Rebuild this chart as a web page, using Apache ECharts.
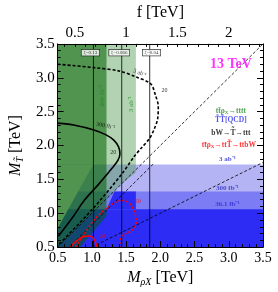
<!DOCTYPE html>
<html><head><meta charset="utf-8">
<script src="https://cdn.jsdelivr.net/npm/echarts@6/dist/echarts.min.js"></script>
<style>html,body{margin:0;padding:0;background:#fff}#c{width:278px;height:292px}</style>
</head><body><div id="c"></div>
<script>
// ---- data ----
const fTicks = [0.5, 1, 1.5, 2];
const fMinorTicks = [0.4,0.5,0.6,0.7,0.8,0.9,1.0,1.1,1.2,1.3,1.4,1.5,1.6,1.7,1.8,1.9,2.0,2.1,2.2,2.3];
const fRange = [1/3, 7/3];               // f axis range (f = M_rho / 1.5)
const bandTops = [1.72, 1.32, 1.06];     // T~T~ [QCD] exclusions in M_T~ (3ab, 300fb, 36.1fb)
const bandNames = ['3 ab⁻¹', '300 fb⁻¹', '36.1 fb⁻¹'];
// 36.1 fb-1 exclusion enhanced by rho -> T~ t production
const extX = [1.214, 1.643, 1.643, 1.33];
const extY = [1.06, 1.06, 1.32, 1.32];
// left edge of the T~T~ exclusion (T~ -> rho t open)
const cutX = [0.5, 0.86, 0.96, 1.02];
const cutY = [0.78, 1.43, 1.61, 1.72];
const xiNames = ['ξ=0.13', 'ξ=0.066', 'ξ=0.04'];
const xiMrho = [1.023, 1.436, 1.845];

// green tt rho -> tttt exclusion regions
const g3abX = [0.5, 1.643, 1.643, 1.43, 0.5];
const g3abY = [3.5, 3.5, 1.6, 1.43, 0.5];
const g300X = [0.5, 1.214, 1.214, 0.83, 0.5];
const g300Y = [3.5, 3.5, 0.96, 0.5, 0.5];

// black bW -> T~ -> ttt contours
const bw300X = [0.5, 0.75, 1.03, 1.2, 1.32, 1.39, 1.41, 1.38, 1.3, 1.2, 1.1, 0.89, 0.72, 0.51];
const bw300Y = [2.33, 2.3, 2.23, 2.16, 2.08, 1.98, 1.88, 1.78, 1.67, 1.55, 1.43, 1.19, 0.94, 0.66];
const bw3abX = [0.5, 1.03, 1.4, 1.65, 1.86, 1.93, 1.97, 1.96, 1.91, 1.84, 1.72, 1.62, 1.43, 1.0, 0.5];
const bw3abY = [3.2, 3.15, 3.1, 3.01, 2.91, 2.74, 2.58, 2.39, 2.24, 2.1, 1.96, 1.84, 1.57, 1.05, 0.52];

// red tt rho -> tt T~ -> ttbW contours
const rDotX = [0.76, 0.86, 0.96, 1.05, 1.15, 1.25, 1.34, 1.43, 1.5, 1.57, 1.63, 1.65, 1.6, 1.5, 1.43, 1.41, 1.41];
const rDotY = [0.5, 0.65, 0.8, 0.92, 1.02, 1.1, 1.16, 1.19, 1.18, 1.12, 1.0, 0.87, 0.76, 0.7, 0.66, 0.55, 0.5];
const rSolX = [0.69, 0.75, 0.83, 0.9, 0.96, 1.01, 1.04, 1.06, 1.075];
const rSolY = [0.5, 0.57, 0.63, 0.66, 0.665, 0.645, 0.6, 0.55, 0.5];

// kinematic lines
const diagX = [0.5, 3.5], diagY = [0.5, 3.5];
const thrX = [0.67, 1.9], thrY = [0.5, 1.73];
const halfX = [1.0, 3.5], halfY = [0.5, 1.75];

// ---- chart ----
const serif = 'Liberation Serif';
function poly(xs, ys, fill, z) {
  return {type: 'custom', silent: true, z: z, clip: true, data: [[xs[0], ys[0]]],
    renderItem: (p, api) => ({type: 'polygon',
      shape: {points: xs.map((x, i) => api.coord([x, ys[i]]))}, style: {fill: fill}})};
}
function line(xs, ys, color, type, width, smooth) {
  return {type: 'line', silent: true, z: 4, showSymbol: false, smooth: smooth ? 0.3 : false,
    data: xs.map((x, i) => [x, ys[i]]), lineStyle: {color: color, type: type, width: width}};
}
function lab(x, y, text, style) {
  return {type: 'scatter', silent: true, z: 6, symbolSize: 0, data: [[x, y]],
    label: Object.assign({show: true, position: 'inside', formatter: text, fontFamily: serif}, style)};
}
const series = [];
const bandColors = ['#b4b4f4', '#7c7cf4', '#2c2cf4'];
bandTops.forEach((t, i) => series.push(poly([0.5, 3.5, 3.5, 0.5], [0.5, 0.5, t, t], bandColors[i], 1)));
series.push(poly(extX, extY, bandColors[2], 1));
// region where the T~T~ bound does not apply
series.push(poly(cutX.concat([0.5]), cutY.concat([cutY[cutY.length - 1]]), '#fff', 1));
series.push(poly(g3abX, g3abY, 'rgba(70,150,70,0.42)', 2));
series.push(poly(g300X, g300Y, 'rgba(0,96,0,0.55)', 3));
xiMrho.forEach(m => series.push(line([m, m], [0.5, 3.5], '#000', 'solid', 0.8)));
series.push(line(diagX, diagY, '#000', [3, 2], 0.8));
series.push(line(thrX, thrY, '#000', [3, 2], 0.8));
series.push(line(halfX, halfY, '#000', [3, 2], 0.8));
series.push(line(bw300X, bw300Y, '#000', 'solid', 1.6, true));
series.push(line(bw3abX, bw3abY, '#000', [3, 2], 1.6, true));
series.push(line(rDotX, rDotY, '#f00', [2, 2], 1.5, true));
series.push(line(rSolX, rSolY, '#f00', 'solid', 1.5, true));

// text labels
series.push(lab(3.03, 3.2, '13 TeV', {color: '#f0f', fontSize: 14, fontWeight: 'bold'}));
const subStyle = {fontSize: 5, fontFamily: serif, fontWeight: 'bold', verticalAlign: 'bottom'};
series.push(lab(3.03, 2.51, 'tt̄ρ{s|X}→tttt', {color: '#228b22', fontSize: 7.5, fontWeight: 'bold', rich: {s: Object.assign({color: '#228b22'}, subStyle)}}));
series.push(lab(3.03, 2.37, 'T̃T̃[QCD]', {color: '#2a2af0', fontSize: 7.5, fontWeight: 'bold'}));
series.push(lab(3.03, 2.19, 'bW→T̃→ttt', {color: '#000', fontSize: 7.5, fontWeight: 'bold'}));
series.push(lab(3.0, 2.0, 'tt̄ρ{s|X}→ttT̃→ttbW', {color: '#f00', fontSize: 7.5, fontWeight: 'bold', rich: {s: Object.assign({color: '#f00'}, subStyle)}}));
const bandLabY = [1.8, 1.37, 1.13];
bandNames.forEach((n, i) => series.push(lab(2.98, bandLabY[i], n, {color: '#2a2ad0', fontSize: 7, fontWeight: 'bold'})));
const xiLabX = [0.979, 1.4, 1.871];
xiNames.forEach((n, i) => series.push(lab(xiLabX[i], 3.37, n, {color: '#000', fontSize: 5, backgroundColor: '#fff', borderColor: '#000', borderWidth: 0.6, padding: [1, 2, 0, 2]})));
series.push(lab(1.157, 2.73, '300 fb⁻¹', {color: '#1a8a1a', fontSize: 7, rotate: 90}));
series.push(lab(1.571, 2.61, '3 ab⁻¹', {color: '#1a8a1a', fontSize: 7, rotate: 90}));
series.push(lab(1.2, 2.29, '300 fb⁻¹', {color: '#000', fontSize: 6, rotate: -12}));
series.push(lab(1.314, 1.9, '20', {color: '#000', fontSize: 6}));
series.push(lab(1.7, 3.07, '3 ab⁻¹', {color: '#000', fontSize: 6, rotate: -20}));
series.push(lab(2.06, 2.81, '20', {color: '#000', fontSize: 6}));
series.push(lab(1.67, 1.17, '20', {color: '#f00', fontSize: 6}));
series.push(lab(1.15, 0.66, '20', {color: '#f00', fontSize: 6}));

const axisBase = {
  axisLine: {onZero: false, lineStyle: {color: '#000', width: 1}},
  splitLine: {show: false}, z: 10
};
const labStyle = {fontFamily: serif, fontSize: 14, color: '#000'};
const nameRich = {i: {fontFamily: serif, fontSize: 16, fontStyle: 'italic'},
  s: {fontFamily: serif, fontSize: 10, fontStyle: 'italic', verticalAlign: 'bottom', padding: [8, 0, 0, 0]}};
const chart = echarts.init(document.getElementById('c'), null, {renderer: 'canvas'});
chart.setOption({
  animation: false,
  grid: {left: 53, top: 38, width: 210, height: 210, show: false},
  xAxis: [
    Object.assign({type: 'value', position: 'bottom', min: 0.5, max: 3.5, interval: 0.5,
      axisLabel: Object.assign({margin: 4, formatter: v => v.toFixed(1)}, labStyle),
      axisTick: {inside: true, length: 6, lineStyle: {color: '#000'}},
      minorTick: {show: true, splitNumber: 5, length: 3, lineStyle: {color: '#000'}},
      name: '{i|M}{s|ρX} [TeV]', nameLocation: 'middle', nameGap: 21,
      nameTextStyle: {fontFamily: serif, fontSize: 16, color: '#000', rich: nameRich}
    }, axisBase),
    Object.assign({type: 'value', position: 'top', min: fRange[0], max: fRange[1],
      axisLabel: Object.assign({margin: 3, customValues: fTicks, formatter: v => String(v)}, labStyle, {fontSize: 15}),
      axisTick: {inside: true, length: 3, customValues: fMinorTicks, lineStyle: {color: '#000'}},
      name: 'f [TeV]', nameLocation: 'middle', nameGap: 20,
      nameTextStyle: {fontFamily: serif, fontSize: 16, color: '#000'}
    }, axisBase)
  ],
  yAxis: [
    Object.assign({type: 'value', position: 'left', min: 0.5, max: 3.5, interval: 0.5,
      axisLabel: Object.assign({margin: 3, formatter: v => v.toFixed(1)}, labStyle, {fontSize: 15}),
      axisTick: {inside: true, length: 6, lineStyle: {color: '#000'}},
      minorTick: {show: true, splitNumber: 5, length: 3, lineStyle: {color: '#000'}},
      name: '{i|M}{s|T̃} [TeV]', nameLocation: 'middle', nameGap: 31,
      nameTextStyle: {fontFamily: serif, fontSize: 16, color: '#000', rich: nameRich}
    }, axisBase),
    Object.assign({type: 'value', position: 'right', min: 0.5, max: 3.5, interval: 0.5,
      axisLabel: {show: false},
      axisTick: {inside: true, length: 6, lineStyle: {color: '#000'}},
      minorTick: {show: true, splitNumber: 5, length: 3, lineStyle: {color: '#000'}}
    }, axisBase)
  ],
  series: series
});
</script></body></html>
